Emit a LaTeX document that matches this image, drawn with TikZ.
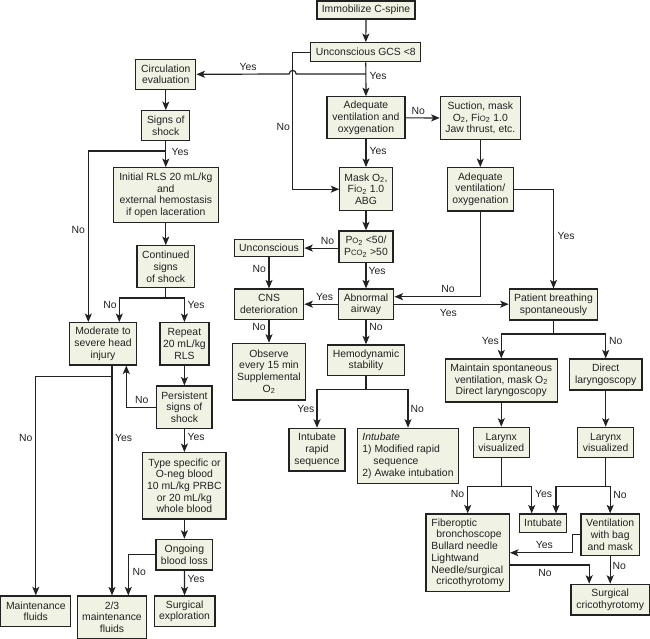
\documentclass[tikz,border=0pt]{standalone}
\usepackage{fontspec}
\setmainfont{Liberation Sans}
\usetikzlibrary{arrows.meta}
\definecolor{boxfill}{HTML}{F0F2E3}
\definecolor{ink}{HTML}{222222}
\newcommand\fsz{\fontsize{10.4}{11.7}\selectfont}
\newcommand\smc[1]{{\fontsize{7.7}{8}\selectfont #1}}
\newcommand\sub[1]{\textsubscript{#1}}
\begin{document}
\begin{tikzpicture}[x=1pt,y=-1pt,
  box/.style={draw=ink, fill=boxfill, line width=1.2pt, inner sep=0pt, align=center, font=\fsz, text=ink},
  arr/.style={draw=ink, line width=1.2pt, -{Stealth[length=8.5pt,width=7pt,inset=2pt]}},
  lbl/.style={font=\fsz, inner sep=0pt, text=ink}]
\useasboundingbox (0,0) rectangle (650,639);
% boxes
\node[box,minimum width=98pt,minimum height=18pt] (imm) at (366,10) {Immobilize C-spine};
\node[box,minimum width=110pt,minimum height=19pt] (gcs) at (365.8,52.2) {Unconscious GCS <8};
\node[box,minimum width=60pt,minimum height=30pt] (circ) at (165.8,74.3) {Circulation\\evaluation};
\node[box,minimum width=48pt,minimum height=30pt] (signs) at (165.8,125.7) {Signs of\\shock};
\node[box,minimum width=78pt,minimum height=42pt] (adeq) at (366,117.8) {Adequate\\ventilation and\\oxygenation};
\node[box,minimum width=80pt,minimum height=42.5pt] (suct) at (480.3,118) {Suction, mask\\O\sub{2}, Fi\smc{O}\sub{2} 1.0\\Jaw thrust, etc.};
\node[box,minimum width=52.3pt,minimum height=43pt] (mask) at (366,189.2) {Mask O\sub{2},\\Fi\smc{O}\sub{2} 1.0\\ABG};
\node[box,minimum width=65.6pt,minimum height=43.3pt] (adeq2) at (480.3,189.3) {Adequate\\ventilation/\\oxygenation};
\node[box,minimum width=105pt,minimum height=55pt] (init) at (165.8,195.2) {Initial RLS 20 mL/kg\\and\\external hemostasis\\if open laceration};
\node[box,minimum width=57.6pt,minimum height=42pt] (cont) at (165.8,266.7) {Continued\\signs\\of shock};
\node[box,minimum width=54pt,minimum height=31.7pt] (po2) at (366,246.8) {P\smc{O}\sub{2} <50/\\P\smc{CO}\sub{2} >50};
\node[box,minimum width=69.4pt,minimum height=17.5pt] (uncon) at (269,248.1) {Unconscious};
\node[box,minimum width=69.5pt,minimum height=30.3pt] (cns) at (269,304.2) {CNS\\deterioration};
\node[box,minimum width=55.7pt,minimum height=30.3pt] (abn) at (366,304.2) {Abnormal\\airway};
\node[box,minimum width=88.4pt,minimum height=31pt] (pat) at (553.5,304.5) {Patient breathing\\spontaneously};
\node[box,minimum width=73.4pt,minimum height=56.7pt] (obs) at (269,371.7) {Observe\\every 15 min\\Supplemental\\O\sub{2}};
\node[box,minimum width=76.6pt,minimum height=30.7pt] (hemo) at (366,360.3) {Hemodynamic\\stability};
\node[box,minimum width=112pt,minimum height=43pt] (maint) at (501.3,380.5) {Maintain spontaneous\\ventilation, mask O\sub{2}\\Direct laryngoscopy};
\node[box,minimum width=72.4pt,minimum height=31pt] (direct) at (605.7,374.5) {Direct\\laryngoscopy};
\node[box,minimum width=56pt,minimum height=42.7pt] (intrs) at (317,449.7) {Intubate\\rapid\\sequence};
\node[box,minimum width=101.4pt,minimum height=55pt,align=left] (intmod) at (408,455.8) {\textit{Intubate}\\1) Modified rapid\\\hspace*{11pt}sequence\\2) Awake intubation};
\node[box,minimum width=55.7pt,minimum height=30.4pt] (lar1) at (501.3,442.5) {Larynx\\visualized};
\node[box,minimum width=56.3pt,minimum height=30.4pt] (lar2) at (605.7,442.5) {Larynx\\visualized};
\node[box,minimum width=83.3pt,minimum height=77.7pt,align=left] (fib) at (467.7,552.8) {Fiberoptic\\\hspace*{5pt}bronchoscope\\Bullard needle\\Lightwand\\Needle/surgical\\\hspace*{5pt}cricothyrotomy};
\node[box,minimum width=47.4pt,minimum height=18.3pt] (intub) at (543,523.2) {Intubate};
\node[box,minimum width=58.3pt,minimum height=41.7pt] (vent) at (610.2,534.8) {Ventilation\\with bag\\and mask};
\node[box,minimum width=78.3pt,minimum height=30.7pt] (surg) at (610.2,599.7) {Surgical\\cricothyrotomy};
\node[box,minimum width=67.4pt,minimum height=42.3pt] (mod) at (103,343.8) {Moderate to\\severe head\\injury};
\node[box,minimum width=49pt,minimum height=42.3pt] (rep) at (184.4,343.8) {Repeat\\20 mL/kg\\RLS};
\node[box,minimum width=55.3pt,minimum height=42.3pt] (pers) at (184.4,407.2) {Persistent\\signs of\\shock};
\node[box,minimum width=83.3pt,minimum height=66.3pt] (type) at (184.4,485.8) {Type specific or\\O-neg blood\\10 mL/kg PRBC\\or 20 mL/kg\\whole blood};
\node[box,minimum width=56.7pt,minimum height=30.7pt] (ongo) at (184.4,554.7) {Ongoing\\blood loss};
\node[box,minimum width=60.7pt,minimum height=30.7pt] (surgx) at (184.6,611.3) {Surgical\\exploration};
\node[box,minimum width=69.6pt,minimum height=42.3pt] (twoth) at (112,617.2) {2/3\\maintenance\\fluids};
\node[box,minimum width=70pt,minimum height=30.7pt] (mfl) at (35.8,611.3) {Maintenance\\fluids};
% junction coordinates
\coordinate (j1) at (365.8,74);
\coordinate (j2) at (165.8,151);
% connectors
\draw[arr] (imm) -- (gcs);
\draw[arr] (gcs) -- (adeq);
\draw[arr] (j1) -- (296.2,74) .. controls (296.2,69.3) and (289.2,69.3) .. (289.2,74) -- (circ.east);
\draw[arr] (gcs.west) -- ++(-18,0) |- (mask.west);
\draw[arr] (circ) -- (signs);
\draw[arr] (signs) -- (init);
\draw[arr] (j2) -| ([xshift=-14.7pt]mod.north);
\draw[arr] (init) -- (cont);
\draw[arr] (cont.south) -- ++(0,9.6) -| ([xshift=16.3pt]mod.north);
\draw[arr] (cont.south) -- ++(0,9.6) -| (rep.north);
\draw[arr] (rep) -- (pers);
\draw[arr] (pers.west) -| ([xshift=23.3pt]mod.south);
\draw[arr] (pers) -- (type);
\draw[arr] (type) -- (ongo);
\draw[arr] (ongo.west) -| ([xshift=16.3pt]twoth.north);
\draw[arr] (ongo) -- (surgx);
\draw[arr] ([xshift=9pt]mod.south) -- (twoth.north);
\draw[arr] ([xshift=9pt]mod.south) -- ++(0,10.7) -| (mfl.north);
\draw[arr] (adeq) -- (mask);
\draw[arr] (adeq) -- (suct);
\draw[arr] (suct.south) -- (suct.south |- adeq2.north);
\draw[arr] (mask) -- (po2);
\draw[arr] (po2.west |- uncon.east) -- (uncon.east);
\draw[arr] (uncon) -- (cns);
\draw[arr] (po2) -- (abn);
\draw[arr] (abn) -- (cns);
\draw[arr] (adeq2.south) |- ([yshift=7.5pt]abn.east);
\draw[arr] (adeq2.east) -| (pat.north);
\draw[arr] (abn.east) -- (abn.east -| pat.west);
\draw[arr] (cns) -- (obs);
\draw[arr] (abn) -- (hemo);
\draw[arr] (pat.south) -- ++(0,13.3) -| (maint.north);
\draw[arr] (pat.south) -- ++(0,13.3) -| (direct.north);
\draw[arr] (hemo.south) -- ++(0,13.6) -| (intrs.north);
\draw[arr] (hemo.south) -- ++(0,13.6) -| (intmod.north);
\draw[arr] (maint) -- (lar1);
\draw[arr] (direct) -- (lar2);
\draw[arr] (lar1.south) -- ++(0,28.3) -| (fib.north);
\draw[arr] (lar1.south) -- ++(0,28.3) -| ([xshift=-11.3pt]intub.north);
\draw[arr] (lar2.south) -- ++(0,28.3) -| ([xshift=13pt]intub.north);
\draw[arr] (lar2.south) -- ++(0,28.3) -| (vent.north);
\draw[arr] (vent.west) -- ++(-8.3,0) |- (fib.east);
\draw[arr] ([yshift=-12.2pt]fib.east) -| ([xshift=-21pt]surg.north);
\draw[arr] (vent) -- (surg);
% labels
\node[lbl] (l1) at (248,66.7) {Yes};
\node[lbl] (l2) at (283.3,127) {No};
\node[lbl] (l3) at (378,76) {Yes};
\node[lbl] (l4) at (378,150.7) {Yes};
\node[lbl] (l5) at (418.3,111) {No};
\node[lbl] (l6) at (180,151.7) {Yes};
\node[lbl] (l7) at (78.3,230) {No};
\node[lbl] (l8) at (259.2,269.3) {No};
\node[lbl] (l9) at (327.5,240.7) {No};
\node[lbl] (l10) at (377,271) {Yes};
\node[lbl] (l11) at (448,289) {No};
\node[lbl] (l12) at (566,236) {Yes};
\node[lbl] (l13) at (324.7,297.3) {Yes};
\node[lbl] (l14) at (448.3,313.3) {Yes};
\node[lbl] (l15) at (259,327.3) {No};
\node[lbl] (l16) at (376,327.3) {No};
\node[lbl] (l17) at (490.3,340.7) {Yes};
\node[lbl] (l18) at (615.7,340.7) {No};
\node[lbl] (l19) at (305.8,409.3) {Yes};
\node[lbl] (l20) at (417.3,409.3) {No};
\node[lbl] (l21) at (457.5,494) {No};
\node[lbl] (l22) at (543.7,494) {Yes};
\node[lbl] (l23) at (620,495) {No};
\node[lbl] (l24) at (544.3,545) {Yes};
\node[lbl] (l25) at (545,572.7) {No};
\node[lbl] (l26) at (619.3,566) {No};
\node[lbl] (l27) at (110,305) {No};
\node[lbl] (l28) at (196.2,305) {Yes};
\node[lbl] (l29) at (141.7,400) {No};
\node[lbl] (l30) at (196.2,436.7) {Yes};
\node[lbl] (l31) at (139.2,572.3) {No};
\node[lbl] (l32) at (196.2,579) {Yes};
\node[lbl] (l33) at (25.8,438.3) {No};
\node[lbl] (l34) at (123.7,438.3) {Yes};
\end{tikzpicture}
\end{document}
